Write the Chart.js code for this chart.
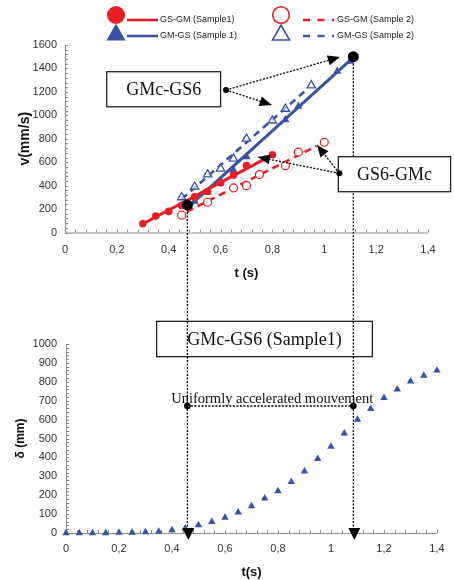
<!DOCTYPE html>
<html>
<head>
<meta charset="utf-8">
<script src="https://cdn.jsdelivr.net/npm/chart.js@4.4.1/dist/chart.umd.min.js"></script>
<style>
  body { margin: 0; background: #fff; }
  #wrap { position: relative; width: 454px; height: 580px; }
  canvas { position: absolute; left: 0; }
  #top { top: 0; }
  #bot { top: 290px; }
</style>
</head>
<body>
<div id="wrap">
  <canvas id="top" width="454" height="290"></canvas>
  <canvas id="bot" width="454" height="290"></canvas>
</div>
<script>
// DATA
const tTickLabels = ["0", "0,2", "0,4", "0,6", "0,8", "1", "1,2", "1,4"];

// GS-GM (Sample1), red filled circles
const tRed1 = [0.3, 0.35, 0.4, 0.45, 0.5, 0.55, 0.6, 0.65, 0.7, 0.8];
const vRed1 = [75, 140, 180, 230, 305, 350, 422, 490, 572, 663];
// GS-GM (Sample 2), red open circles
const tRed2 = [0.45, 0.55, 0.65, 0.7, 0.75, 0.85, 0.9, 1.0];
const vRed2 = [148, 258, 380, 400, 494, 570, 686, 770];
// GM-GS (Sample 1), blue filled triangles
const tBlue1 = [0.5, 0.55, 0.6, 0.65, 0.7, 0.85, 0.9, 1.05, 1.1];
const vBlue1 = [265, 345, 440, 530, 645, 962, 1076, 1376, 1461];
// GM-GS (Sample 2), blue open triangles
const tBlue2 = [0.45, 0.5, 0.55, 0.6, 0.65, 0.7, 0.8, 0.85, 0.95];
const vBlue2 = [300, 390, 495, 545, 630, 800, 955, 1055, 1255];

// trend lines (end points)
const fitRed1T = [0.29, 0.8];
const fitRed1V = [62, 663];
const fitRed2T = [0.47, 0.97];
const fitRed2V = [178, 738];
const fitBlue1T = [0.47, 1.11];
const fitBlue1V = [205, 1490];
const fitBlue2T = [0.45, 0.93];
const fitBlue2V = [285, 1215];

// the two marked instants (start / end of the acceleration)
const markT = [0.472, 1.112];
const markV = [235, 1500];

// displacement, GMc-GS6 (Sample1)
const tDisp = [0, 0.05, 0.1, 0.15, 0.2, 0.25, 0.3, 0.35, 0.4, 0.45, 0.5, 0.55, 0.6, 0.65, 0.7,
  0.75, 0.8, 0.85, 0.9, 0.95, 1.0, 1.05, 1.1, 1.15, 1.2, 1.25, 1.3, 1.35, 1.4];
const dDisp = [0, 0, 0, 0, 2, 2, 5, 8, 16, 25, 42, 59, 82, 109, 142,
  183, 222, 270, 326, 392, 457, 527, 600, 657, 715, 760, 803, 833, 860];

const RED = "#ec1c24";
const BLUE = "#3953a4";
const SANS = '"Liberation Sans", Arial, sans-serif';
const SERIF = '"Liberation Serif", "Times New Roman", serif';

function pts(xs, ys) {
  return xs.map((x, i) => ({ x, y: ys[i] }));
}

// HELPERS
function dotted(ctx) {
  ctx.strokeStyle = "#000";
  ctx.lineWidth = 1.3;
  ctx.setLineDash([2, 1.5]);
}

function seg(ctx, x1, y1, x2, y2) {
  ctx.beginPath();
  ctx.moveTo(x1, y1);
  ctx.lineTo(x2, y2);
  ctx.stroke();
}

function head(ctx, fx, fy, tx, ty, len, half) {
  const a = Math.atan2(ty - fy, tx - fx);
  ctx.save();
  ctx.setLineDash([]);
  ctx.fillStyle = "#000";
  ctx.beginPath();
  ctx.moveTo(tx, ty);
  ctx.lineTo(tx - len * Math.cos(a) + half * Math.sin(a), ty - len * Math.sin(a) - half * Math.cos(a));
  ctx.lineTo(tx - len * Math.cos(a) - half * Math.sin(a), ty - len * Math.sin(a) + half * Math.cos(a));
  ctx.closePath();
  ctx.fill();
  ctx.restore();
}

function arrow(ctx, x1, y1, x2, y2) {
  dotted(ctx);
  seg(ctx, x1, y1, x2, y2);
  head(ctx, x1, y1, x2, y2, 12, 5);
}

function dot(ctx, x, y, r) {
  ctx.save();
  ctx.setLineDash([]);
  ctx.fillStyle = "#000";
  ctx.beginPath();
  ctx.arc(x, y, r, 0, Math.PI * 2);
  ctx.fill();
  ctx.restore();
}

function box(ctx, x1, y1, x2, y2, text) {
  ctx.save();
  ctx.setLineDash([]);
  ctx.fillStyle = "#fff";
  ctx.fillRect(x1, y1, x2 - x1, y2 - y1);
  ctx.strokeStyle = "#222";
  ctx.lineWidth = 1.3;
  ctx.strokeRect(x1, y1, x2 - x1, y2 - y1);
  ctx.fillStyle = "#111";
  ctx.font = "18px " + SERIF;
  ctx.textAlign = "center";
  ctx.textBaseline = "middle";
  ctx.fillText(text, (x1 + x2) / 2, (y1 + y2) / 2 + 1);
  ctx.restore();
}

// axis lines + small inward ticks
const axesPlugin = {
  id: "axes",
  beforeDatasetsDraw(chart, args, opts) {
    const { ctx, chartArea: a, scales: { x, y } } = chart;
    ctx.save();
    ctx.strokeStyle = "#8c8c8c";
    ctx.lineWidth = 1;
    ctx.beginPath();
    ctx.moveTo(a.left + 0.5, a.top);
    ctx.lineTo(a.left + 0.5, a.bottom + 0.5);
    ctx.lineTo(a.right, a.bottom + 0.5);
    for (let k = 0; ; k++) {
      const v = x.min + k * opts.xMinor;
      if (v > x.max + 1e-9) break;
      const px = Math.round(x.getPixelForValue(v)) + 0.5;
      ctx.moveTo(px, a.bottom);
      ctx.lineTo(px, a.bottom - 3);
    }
    for (let k = 0; ; k++) {
      const v = y.min + k * opts.yMinor;
      if (v > y.max + 1e-9) break;
      const py = Math.round(y.getPixelForValue(v)) + 0.5;
      ctx.moveTo(a.left, py);
      ctx.lineTo(a.left + 3, py);
    }
    ctx.stroke();
    ctx.restore();
  },
};

// legend, boxes, arrows for the velocity chart
const topNotes = {
  id: "topNotes",
  afterDraw(chart) {
    const { ctx, scales: { x, y } } = chart;
    const X = (t) => x.getPixelForValue(t);
    const Y = (v) => y.getPixelForValue(v);
    ctx.save();

    // LEGEND
    ctx.fillStyle = RED;
    ctx.beginPath();
    ctx.arc(116, 15, 9, 0, Math.PI * 2);
    ctx.fill();
    ctx.fillStyle = BLUE;
    ctx.beginPath();
    ctx.moveTo(116, 23.5);
    ctx.lineTo(125.5, 40.5);
    ctx.lineTo(106.5, 40.5);
    ctx.closePath();
    ctx.fill();
    ctx.lineWidth = 1.6;
    ctx.strokeStyle = RED;
    ctx.beginPath();
    ctx.arc(281, 15, 8.3, 0, Math.PI * 2);
    ctx.stroke();
    ctx.strokeStyle = BLUE;
    ctx.beginPath();
    ctx.moveTo(281, 25);
    ctx.lineTo(289.5, 40);
    ctx.lineTo(272.5, 40);
    ctx.closePath();
    ctx.stroke();

    ctx.lineWidth = 2.6;
    ctx.strokeStyle = RED;
    seg(ctx, 127, 20, 158, 20);
    ctx.strokeStyle = BLUE;
    seg(ctx, 127, 36, 158, 36);
    ctx.setLineDash([7, 7.5]);
    ctx.strokeStyle = RED;
    seg(ctx, 303, 20, 334, 20);
    ctx.strokeStyle = BLUE;
    seg(ctx, 303, 36, 334, 36);
    ctx.setLineDash([]);

    ctx.fillStyle = "#222";
    ctx.font = "9px " + SANS;
    ctx.textBaseline = "middle";
    ctx.fillText("GS-GM (Sample1)", 160, 20);
    ctx.fillText("GM-GS (Sample 1)", 160, 36);
    ctx.fillText("GS-GM (Sample 2)", 337, 20);
    ctx.fillText("GM-GS (Sample 2)", 337, 36);

    // vertical dotted lines going down to the displacement chart
    dotted(ctx);
    markT.forEach((t, i) => seg(ctx, X(t), Y(markV[i]), X(t), chart.height));

    // GMc-GS6
    box(ctx, X(0.161), Y(1372), X(0.6), Y(1073), "GMc-GS6");
    const d1x = X(0.621), d1y = Y(1216);
    arrow(ctx, d1x, d1y, X(1.06), Y(1497));
    arrow(ctx, d1x, d1y, X(0.797), Y(1088));
    dot(ctx, d1x, d1y, 3);

    // GS6-GMc
    box(ctx, X(1.054), Y(647), X(1.487), Y(348), "GS6-GMc");
    const d2x = X(1.058), d2y = Y(505);
    arrow(ctx, d2x, d2y, X(0.744), Y(644));
    arrow(ctx, d2x, d2y, X(0.972), Y(747));
    dot(ctx, d2x, d2y, 3);

    // start / end points
    markT.forEach((t, i) => dot(ctx, X(t), Y(markV[i]), 5.5));
    ctx.restore();
  },
};

function axisFont(size, bold) {
  return { family: SANS, size, weight: bold ? "bold" : "normal" };
}

const topChart = new Chart(document.getElementById("top"), {
  type: "scatter",
  data: {
    datasets: [
      { data: pts(tRed1, vRed1), pointStyle: "circle", pointRadius: 3.8, backgroundColor: RED, borderColor: RED, borderWidth: 0, order: 1 },
      { data: pts(tRed2, vRed2), pointStyle: "circle", pointRadius: 4, backgroundColor: "#fff", borderColor: RED, borderWidth: 1.2, order: 1 },
      { data: pts(tBlue1, vBlue1), pointStyle: "triangle", pointRadius: 4.8, backgroundColor: BLUE, borderColor: BLUE, borderWidth: 0, order: 1 },
      { data: pts(tBlue2, vBlue2), pointStyle: "triangle", pointRadius: 4.8, backgroundColor: "rgba(255,255,255,0.6)", borderColor: BLUE, borderWidth: 1.3, order: 1 },
      { data: pts(fitRed1T, fitRed1V), showLine: true, borderColor: RED, borderWidth: 3, pointRadius: 0, order: 2 },
      { data: pts(fitRed2T, fitRed2V), showLine: true, borderColor: RED, borderWidth: 2.6, borderDash: [7, 5], pointRadius: 0, order: 2 },
      { data: pts(fitBlue1T, fitBlue1V), showLine: true, borderColor: BLUE, borderWidth: 3, pointRadius: 0, order: 2 },
      { data: pts(fitBlue2T, fitBlue2V), showLine: true, borderColor: BLUE, borderWidth: 2.6, borderDash: [7, 5], pointRadius: 0, order: 2 },
    ],
  },
  options: {
    responsive: false,
    animation: false,
    events: [],
    layout: { padding: { left: 0, right: 26, top: 45, bottom: 0 } },
    plugins: {
      legend: { display: false },
      tooltip: { enabled: false },
      axes: { xMinor: 0.04, yMinor: 40 },
    },
    scales: {
      x: {
        type: "linear",
        min: 0,
        max: 1.4,
        grid: { display: false, drawTicks: false },
        border: { display: false },
        ticks: { stepSize: 0.2, padding: 11, color: "#333", font: axisFont(11), callback: (v, i) => tTickLabels[i] },
        title: { display: true, text: "t (s)", color: "#111", font: axisFont(13, true), padding: { top: 0, bottom: 9 } },
        afterFit: (s) => { s.height = 57.5; },
      },
      y: {
        min: 0,
        max: 1600,
        grid: { display: false, drawTicks: false },
        border: { display: false },
        ticks: { stepSize: 200, padding: 8, color: "#333", font: axisFont(11), callback: (v) => String(v) },
        title: { display: true, text: "v(mm/s)", color: "#111", font: axisFont(14, true), padding: { top: 17, bottom: 0 } },
        afterFit: (s) => { s.width = 65; },
      },
    },
  },
  plugins: [axesPlugin, topNotes],
});

// annotations for the displacement chart
const botNotes = {
  id: "botNotes",
  afterDraw(chart) {
    const { ctx, chartArea: a, scales: { x, y } } = chart;
    const tx = topChart.scales.x;
    const xs = markT.map((t) => tx.getPixelForValue(t));
    const yDot = y.getPixelForValue(672);
    ctx.save();

    box(ctx, x.getPixelForValue(0.342), y.getPixelForValue(1120), x.getPixelForValue(1.156), y.getPixelForValue(933), "GMc-GS6 (Sample1)");

    ctx.fillStyle = "#111";
    ctx.font = "14.5px " + SERIF;
    ctx.textBaseline = "alphabetic";
    ctx.fillText("Uniformly accelerated mouvement", x.getPixelForValue(0.397), y.getPixelForValue(688));

    dotted(ctx);
    xs.forEach((px) => {
      seg(ctx, px, 0, px, a.bottom - 4);
      head(ctx, px + 1, a.bottom - 6, px + 1, a.bottom + 7, 12, 6);
    });
    seg(ctx, xs[0], yDot, xs[1], yDot);
    xs.forEach((px) => dot(ctx, px, yDot, 3.3));
    ctx.restore();
  },
};

new Chart(document.getElementById("bot"), {
  type: "scatter",
  data: {
    datasets: [
      { data: pts(tDisp, dDisp), pointStyle: "triangle", pointRadius: 4.3, backgroundColor: BLUE, borderColor: BLUE, borderWidth: 0, clip: false },
    ],
  },
  options: {
    responsive: false,
    animation: false,
    events: [],
    layout: { padding: { left: 0, right: 17, top: 54, bottom: 0 } },
    plugins: {
      legend: { display: false },
      tooltip: { enabled: false },
      axes: { xMinor: 0.04, yMinor: 20 },
    },
    scales: {
      x: {
        type: "linear",
        min: 0,
        max: 1.4,
        grid: { display: false, drawTicks: false },
        border: { display: false },
        ticks: { stepSize: 0.2, padding: 9, color: "#333", font: axisFont(11), callback: (v, i) => tTickLabels[i] },
        title: { display: true, text: "t(s)", color: "#111", font: axisFont(13, true), padding: { top: 0, bottom: 0 } },
        afterFit: (s) => { s.height = 47; },
      },
      y: {
        min: 0,
        max: 1000,
        grid: { display: false, drawTicks: false },
        border: { display: false },
        ticks: { stepSize: 100, padding: 9, color: "#333", font: axisFont(11), callback: (v) => String(v) },
        title: { display: true, text: "δ (mm)", color: "#111", font: axisFont(12, true), padding: { top: 13, bottom: 0 } },
        afterFit: (s) => { s.width = 66; },
      },
    },
  },
  plugins: [axesPlugin, botNotes],
});
</script>
</body>
</html>
